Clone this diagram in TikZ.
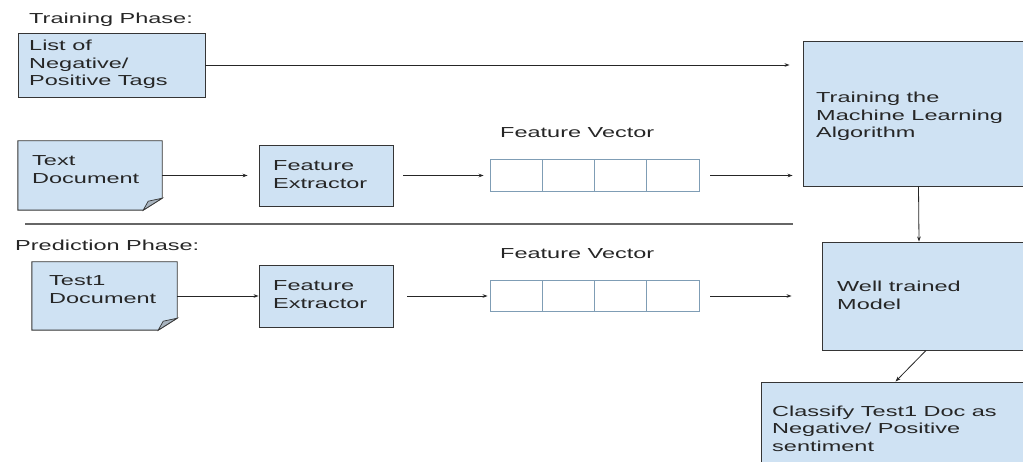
\documentclass[tikz,border=0pt]{standalone}
\usepackage{fontspec}
\setmainfont{Liberation Sans}
\usepackage{graphicx}
\usetikzlibrary{arrows.meta,calc}
\definecolor{boxfill}{HTML}{CFE2F3}
\definecolor{boxline}{HTML}{353535}
\definecolor{cellline}{HTML}{7F9DB5}
\definecolor{foldfill}{HTML}{A7B3BE}
\newcommand{\wtext}[1]{\scalebox{1.62}[1]{\begin{tabular}{@{}l@{}}#1\end{tabular}}}
\newcommand{\wline}[1]{\scalebox{1.62}[1]{#1}}
\begin{document}
\begin{tikzpicture}[x=1pt,y=-1pt,
 box/.style={draw=boxline, fill=boxfill, line width=0.9pt, inner sep=0pt},
 docbox/.style={inner sep=0pt},
 cell/.style={draw=cellline, fill=white, line width=0.8pt, minimum width=52.25pt, minimum height=32pt, inner sep=0pt},
 lbl/.style={inner sep=0pt, text=black!85, font=\fontsize{14.5}{17.5}\selectfont},
 conn/.style={draw=black!85, line width=0.8pt, -{Stealth[length=5pt,width=3.6pt]}},
 fold/.style={draw=boxline, fill=foldfill, line width=0.7pt},
]
\useasboundingbox (0,0) rectangle (1023,462);
\clip (0,0) rectangle (1023,462);
\fill[white] (0,0) rectangle (1023,462);

% phase labels
\node[lbl, anchor=base west] (trainP) at (29,24) {\wline{Training Phase:}};
\node[lbl, anchor=base west] (predP) at (15,251) {\wline{Prediction Phase:}};

% training row
\node[box, minimum width=187pt, minimum height=64pt] (list) at (111.5,65) {};
\node[lbl, anchor=west] (listT) at (29,65) {\wtext{List of\\Negative/\\Positive Tags}};

\node[docbox, minimum width=144pt, minimum height=69pt] (tdoc) at (90,175.5) {};
\draw[box] (tdoc.north west) -- (tdoc.north east) -- ([yshift=12pt]tdoc.south east) -- ([xshift=-19pt]tdoc.south east) -- (tdoc.south west) -- cycle;
\draw[fold] ([yshift=12pt]tdoc.south east) -- ([xshift=-19pt]tdoc.south east) -- ([xshift=-14pt,yshift=9pt]tdoc.south east) -- cycle;
\node[lbl, anchor=west] (tdocT) at (32,171) {\wtext{Text\\Document}};

\node[box, minimum width=134pt, minimum height=61pt] (fe1) at (326,175.5) {};
\node[lbl, anchor=west] (fe1T) at (273,176) {\wtext{Feature\\Extractor}};

\node[lbl, anchor=base west] (fv1) at (500,138) {\wline{Feature Vector}};
\node[cell] (v11) at (516.1,175.5) {};
\node[cell] (v12) at (568.4,175.5) {};
\node[cell] (v13) at (620.6,175.5) {};
\node[cell] (v14) at (672.9,175.5) {};

\node[box, minimum width=227pt, minimum height=145pt] (train) at (916.5,113.5) {};
\node[lbl, anchor=west] (trainT) at (816,117) {\wtext{Training the\\Machine Learning\\Algorithm}};

% separator
\draw[black!60, line width=1.2pt] (25,224) -- (793,224);

% prediction row
\node[docbox, minimum width=145pt, minimum height=68pt] (testdoc) at (104.5,296) {};
\draw[box] (testdoc.north west) -- (testdoc.north east) -- ([yshift=12pt]testdoc.south east) -- ([xshift=-19pt]testdoc.south east) -- (testdoc.south west) -- cycle;
\draw[fold] ([yshift=12pt]testdoc.south east) -- ([xshift=-19pt]testdoc.south east) -- ([xshift=-14pt,yshift=9pt]testdoc.south east) -- cycle;
\node[lbl, anchor=west] (testT) at (49,291) {\wtext{Test1\\Document}};

\node[box, minimum width=134pt, minimum height=62pt] (fe2) at (326,296) {};
\node[lbl, anchor=west] (fe2T) at (273,296) {\wtext{Feature\\Extractor}};

\node[lbl, anchor=base west] (fv2) at (500,259) {\wline{Feature Vector}};
\node[cell, minimum height=31pt] (v21) at (516.1,296) {};
\node[cell, minimum height=31pt] (v22) at (568.4,296) {};
\node[cell, minimum height=31pt] (v23) at (620.6,296) {};
\node[cell, minimum height=31pt] (v24) at (672.9,296) {};

\node[box, minimum width=208pt, minimum height=108pt] (well) at (926,296) {};
\node[lbl, anchor=west] (wellT) at (837,297) {\wtext{Well trained\\Model}};

\node[box, minimum width=269pt, minimum height=93pt] (classify) at (895.5,428.5) {};
\node[lbl, anchor=west] (classT) at (772,430) {\wtext{Classify Test1 Doc as\\Negative/ Positive\\sentiment}};

% connectors
\draw[conn, shorten >=13pt] (list.east) -- (list.east -| train.west);
\draw[conn, shorten >=11pt] (tdoc.east) -- (fe1.west);
\draw[conn, shorten <=10pt, shorten >=6pt] (fe1.east) -- (v11.west);
\draw[conn, shorten <=11pt, shorten >=10pt] (v14.east) -- (v14.east -| train.west);
\draw[conn] ([xshift=2pt]train.south) -- ([xshift=-7pt]well.north);
\draw[conn] (well.south) -- (classify.north);
\draw[conn] (testdoc.east) -- (fe2.west);
\draw[conn, shorten <=14pt, shorten >=2pt] (fe2.east) -- (v21.west);
\draw[conn, shorten <=11pt, shorten >=30pt] (v24.east) -- (v24.east -| well.west);
\end{tikzpicture}
\end{document}
